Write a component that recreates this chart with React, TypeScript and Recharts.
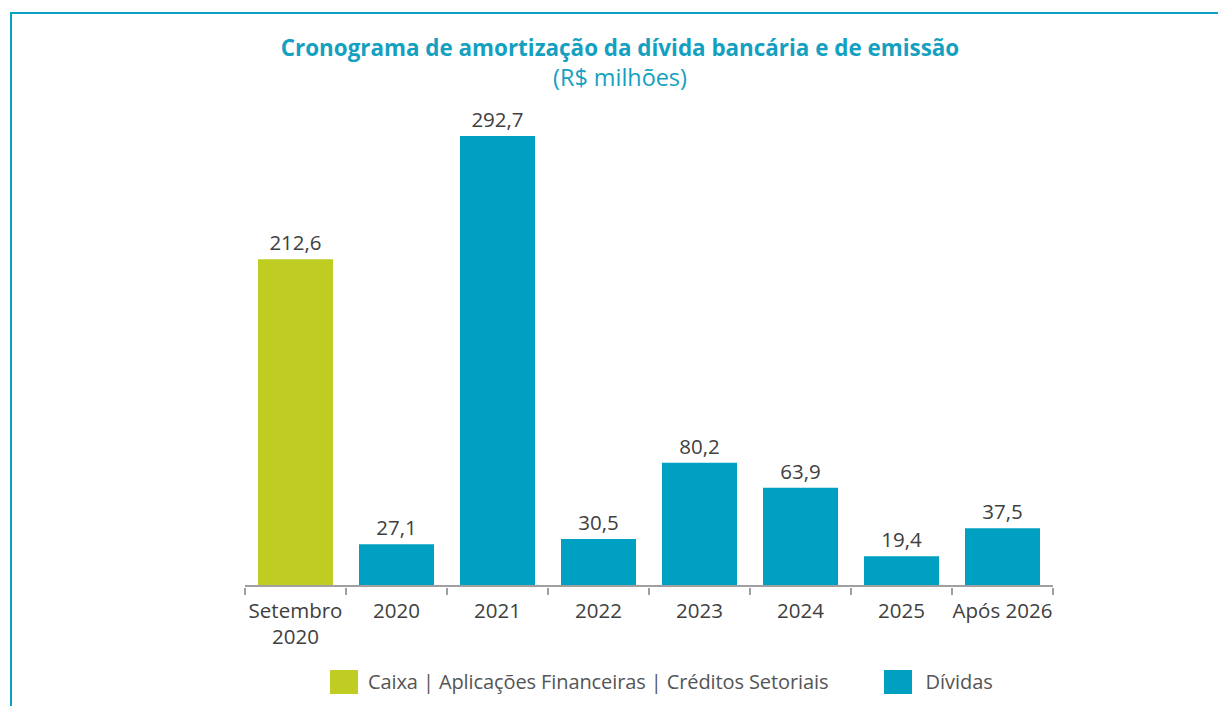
import React from 'react'
import { BarChart, Bar, XAxis, YAxis, LabelList } from 'recharts'

const categories = ['Setembro 2020', '2020', '2021', '2022', '2023', '2024', '2025', 'Após 2026']
const caixa = [212.6, null, null, null, null, null, null, null]
const dividas = [null, 27.1, 292.7, 30.5, 80.2, 63.9, 19.4, 37.5]
const legendLabels = ['Caixa | Aplicações Financeiras | Créditos Setoriais', 'Dívidas']

const GREEN = '#BFCC22'
const BLUE = '#00A0C3'
const TEXT = '#404040'
const AXIS = '#A0A0A0'
const FONT = '"Open Sans", sans-serif'

const chartData = categories.map((name, i) => ({
  name,
  caixa: caixa[i],
  dividas: dividas[i],
}))

const fmt = (v: any) => (v == null ? '' : Number(v).toFixed(1).replace('.', ','))

// label plus tick marks at the band edges (offset = half the band width)
const CategoryTick = (props: any) => {
  const { x, y, payload, index, visibleTicksCount } = props
  const half = payload.offset || 0
  const lines = payload.value === 'Setembro 2020' ? ['Setembro', '2020'] : [payload.value]
  return (
    <g>
      <line x1={x - half} x2={x - half} y1={y - 8} y2={y - 1} stroke={AXIS} strokeWidth={2} />
      {index === visibleTicksCount - 1 && (
        <line x1={x + half} x2={x + half} y1={y - 8} y2={y - 1} stroke={AXIS} strokeWidth={2} />
      )}
      {lines.map((l, i) => (
        <text key={i} x={x} y={y + 22 + i * 26} textAnchor="middle" fill={TEXT} fontSize={20.5} fontFamily={FONT}>
          {l}
        </text>
      ))}
    </g>
  )
}

export default function App() {
  return (
    <div style={{ position: 'absolute', left: 0, top: 0, width: 1218, height: 706, background: '#fff', overflow: 'hidden' }}>
      <div style={{ position: 'absolute', left: 10, top: 12, width: 1240, height: 760, border: '2px solid #0AA2C4', boxSizing: 'border-box' }} />
      <div style={{ position: 'absolute', left: 0, top: 33, width: 1240, textAlign: 'center', fontFamily: FONT, color: '#14A0C0' }}>
        <div style={{ fontSize: 22.4, fontWeight: 700, lineHeight: '30px' }}>Cronograma de amortização da dívida bancária e de emissão</div>
        <div style={{ fontSize: 23.4, lineHeight: '29px' }}>(R$ milhões)</div>
      </div>
      <div style={{ position: 'absolute', left: 0, top: 0 }}>
        <BarChart width={1218} height={706} data={chartData} barCategoryGap={13} margin={{ top: 136, right: 165, bottom: 60, left: 245 }}>
          <XAxis dataKey="name" height={60} tickLine={false} tickSize={8} axisLine={{ stroke: AXIS, strokeWidth: 2 }} tick={<CategoryTick />} interval={0} />
          <YAxis hide domain={[0, 'dataMax']} />
          <Bar dataKey="caixa" stackId="a" fill={GREEN} isAnimationActive={false}>
            <LabelList dataKey="caixa" position="top" offset={9} formatter={fmt} fill={TEXT} fontSize={20.5} fontFamily={FONT} />
          </Bar>
          <Bar dataKey="dividas" stackId="a" fill={BLUE} isAnimationActive={false}>
            <LabelList dataKey="dividas" position="top" offset={9} formatter={fmt} fill={TEXT} fontSize={20.5} fontFamily={FONT} />
          </Bar>
        </BarChart>
      </div>
      <div style={{ position: 'absolute', left: 330, top: 668, display: 'flex', alignItems: 'center', fontFamily: FONT, fontSize: 20, color: '#555' }}>
        <span style={{ width: 28, height: 24, background: GREEN, display: 'inline-block', marginRight: 10 }} />
        <span style={{ letterSpacing: -0.1 }}>{legendLabels[0]}</span>
        <span style={{ width: 28, height: 24, background: BLUE, display: 'inline-block', marginLeft: 56, marginRight: 13 }} />
        <span>{legendLabels[1]}</span>
      </div>
    </div>
  )
}
